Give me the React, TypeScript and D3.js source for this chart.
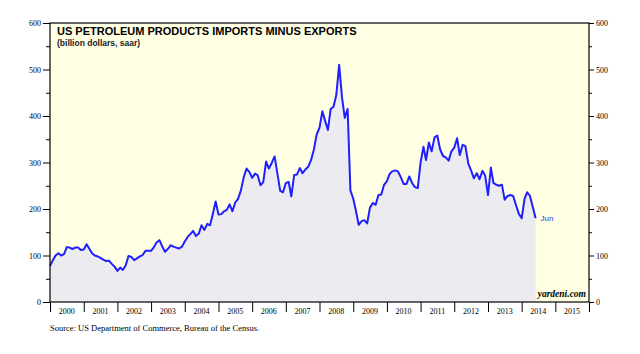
import { useEffect, useRef } from 'react';
import * as d3 from 'd3';

// monthly values, Jan 2000 .. Jun 2014 (billion dollars, saar)
const values2000 = [77, 90, 100, 105, 100, 103, 118, 117, 114, 117, 117, 112];
const values2001 = [113, 124, 115, 105, 100, 98, 95, 91, 88, 89, 82, 76];
const values2002 = [67, 74, 69, 79, 99, 97, 90, 94, 98, 101, 110, 110];
const values2003 = [110, 118, 128, 133, 120, 108, 114, 122, 119, 117, 115, 119];
const values2004 = [130, 140, 146, 153, 142, 147, 165, 155, 168, 165, 190, 216];
const values2005 = [188, 189, 195, 198, 210, 195, 214, 222, 240, 268, 287, 280];
const values2006 = [267, 276, 273, 251, 258, 302, 287, 299, 313, 277, 239, 236];
const values2007 = [256, 258, 227, 273, 274, 288, 277, 285, 291, 305, 328, 360];
const values2008 = [375, 410, 390, 370, 415, 420, 445, 510, 440, 396, 415, 240];
const values2009 = [222, 194, 166, 174, 176, 169, 203, 213, 209, 230, 231, 252];
const values2010 = [260, 276, 281, 283, 281, 268, 254, 254, 270, 256, 247, 245];
const values2011 = [300, 334, 305, 343, 324, 354, 358, 328, 314, 311, 304, 324];
const values2012 = [332, 352, 316, 338, 335, 298, 283, 266, 277, 264, 282, 272];
const values2013 = [230, 289, 256, 252, 250, 252, 220, 228, 230, 228, 208, 190];
const values2014 = [180, 222, 236, 228, 205, 180];

const yearLabels = [
  '2000', '2001', '2002', '2003', '2004', '2005', '2006', '2007',
  '2008', '2009', '2010', '2011', '2012', '2013', '2014', '2015'
];
const majorTicks = [0, 100, 200, 300, 400, 500, 600];
const minorTicks = [50, 150, 250, 350, 450, 550];

const title = 'US PETROLEUM PRODUCTS IMPORTS MINUS EXPORTS';
const subtitle = '(billion dollars, saar)';
const sourceText = 'Source: US Department of Commerce, Bureau of the Census.';
const lastLabel = 'Jun';

const allValues = [
  ...values2000, ...values2001, ...values2002, ...values2003, ...values2004,
  ...values2005, ...values2006, ...values2007, ...values2008, ...values2009,
  ...values2010, ...values2011, ...values2012, ...values2013, ...values2014
];

const WIDTH = 640;
const HEIGHT = 354;
const plot = { left: 50, right: 589, top: 23, bottom: 302 };

const serif = '"Liberation Serif", "Times New Roman", serif';
const sans = '"Liberation Sans", Arial, sans-serif';

export default function App() {
  const svgRef = useRef<SVGSVGElement>(null);

  useEffect(() => {
    const svg = d3.select(svgRef.current);
    svg.selectAll('*').remove();

    const data = allValues.map((v, i) => ({ date: new Date(2000, i, 1), value: v }));

    const xScale = d3
      .scaleTime()
      .domain([new Date(2000, 0, 1), new Date(2016, 0, 1)])
      .range([plot.left, plot.right]);
    const yScale = d3.scaleLinear().domain([0, 600]).range([plot.bottom, plot.top]);

    // background
    svg
      .append('rect')
      .attr('x', plot.left)
      .attr('y', plot.top)
      .attr('width', plot.right - plot.left)
      .attr('height', plot.bottom - plot.top)
      .attr('fill', '#FFFFE3');

    // area under the line
    const area = d3
      .area<{ date: Date; value: number }>()
      .x((d) => xScale(d.date))
      .y0(yScale(0))
      .y1((d) => yScale(d.value));
    svg.append('path').datum(data).attr('d', area).attr('fill', '#ECECF0');

    const line = d3
      .line<{ date: Date; value: number }>()
      .x((d) => xScale(d.date))
      .y((d) => yScale(d.value));
    svg
      .append('path')
      .datum(data)
      .attr('d', line)
      .attr('fill', 'none')
      .attr('stroke', '#1F1FFF')
      .attr('stroke-width', 2)
      .attr('stroke-linejoin', 'round');

    const last = data[data.length - 1];
    svg
      .append('text')
      .attr('x', xScale(last.date) + 5)
      .attr('y', yScale(last.value) + 3)
      .attr('font-family', sans)
      .attr('font-size', 8)
      .attr('fill', '#3333FF')
      .text(lastLabel);

    // frame
    svg
      .append('rect')
      .attr('x', plot.left)
      .attr('y', plot.top)
      .attr('width', plot.right - plot.left)
      .attr('height', plot.bottom - plot.top)
      .attr('fill', 'none')
      .attr('stroke', '#000')
      .attr('stroke-width', 1.2);

    // left axis
    svg
      .append('g')
      .attr('transform', `translate(${plot.left},0)`)
      .call(d3.axisLeft(yScale).tickValues(majorTicks).tickSize(7).tickPadding(2))
      .call((g) => {
        g.select('.domain').remove();
        g.selectAll('text').attr('font-family', serif).attr('font-size', 8).attr('fill', '#000');
      });
    svg
      .append('g')
      .attr('transform', `translate(${plot.left},0)`)
      .call(d3.axisLeft(yScale).tickValues(minorTicks).tickSize(4).tickFormat(() => ''))
      .call((g) => g.select('.domain').remove());

    // right axis
    svg
      .append('g')
      .attr('transform', `translate(${plot.right},0)`)
      .call(d3.axisRight(yScale).tickValues(majorTicks).tickSize(5).tickPadding(2))
      .call((g) => {
        g.select('.domain').remove();
        g.selectAll('text').attr('font-family', serif).attr('font-size', 8).attr('fill', '#000');
      });
    svg
      .append('g')
      .attr('transform', `translate(${plot.right},0)`)
      .call(d3.axisRight(yScale).tickValues(minorTicks).tickSize(3).tickFormat(() => ''))
      .call((g) => g.select('.domain').remove());

    // bottom axis: year boundary ticks, labels centred within each year
    const yearStarts = d3.range(yearLabels.length + 1).map((i) => new Date(2000 + i, 0, 1));
    svg
      .append('g')
      .attr('transform', `translate(0,${plot.bottom})`)
      .call(d3.axisBottom(xScale).tickValues(yearStarts).tickSize(10).tickFormat(() => ''))
      .call((g) => g.select('.domain').remove());

    svg
      .append('g')
      .selectAll('text')
      .data(yearLabels)
      .enter()
      .append('text')
      .attr('x', (d) => xScale(new Date(+d, 6, 1)))
      .attr('y', plot.bottom + 12)
      .attr('text-anchor', 'middle')
      .attr('font-family', serif)
      .attr('font-size', 8)
      .text((d) => d);

    // titles
    svg
      .append('text')
      .attr('x', 57)
      .attr('y', 35)
      .attr('font-family', sans)
      .attr('font-weight', 'bold')
      .attr('font-size', 11)
      .text(title);
    svg
      .append('text')
      .attr('x', 57)
      .attr('y', 46)
      .attr('font-family', sans)
      .attr('font-weight', 'bold')
      .attr('font-size', 8.5)
      .attr('fill', '#222')
      .text(subtitle);

    svg
      .append('text')
      .attr('x', plot.right - 3)
      .attr('y', plot.bottom - 5)
      .attr('text-anchor', 'end')
      .attr('font-family', serif)
      .attr('font-style', 'italic')
      .attr('font-weight', 'bold')
      .attr('font-size', 9.5)
      .text('yardeni.com');

    svg
      .append('text')
      .attr('x', plot.left)
      .attr('y', 331)
      .attr('font-family', serif)
      .attr('font-size', 8.5)
      .text(sourceText);
  }, []);

  return (
    <svg
      ref={svgRef}
      width={WIDTH}
      height={HEIGHT}
      style={{ position: 'absolute', left: 0, top: 0, background: '#fff' }}
    />
  );
}
